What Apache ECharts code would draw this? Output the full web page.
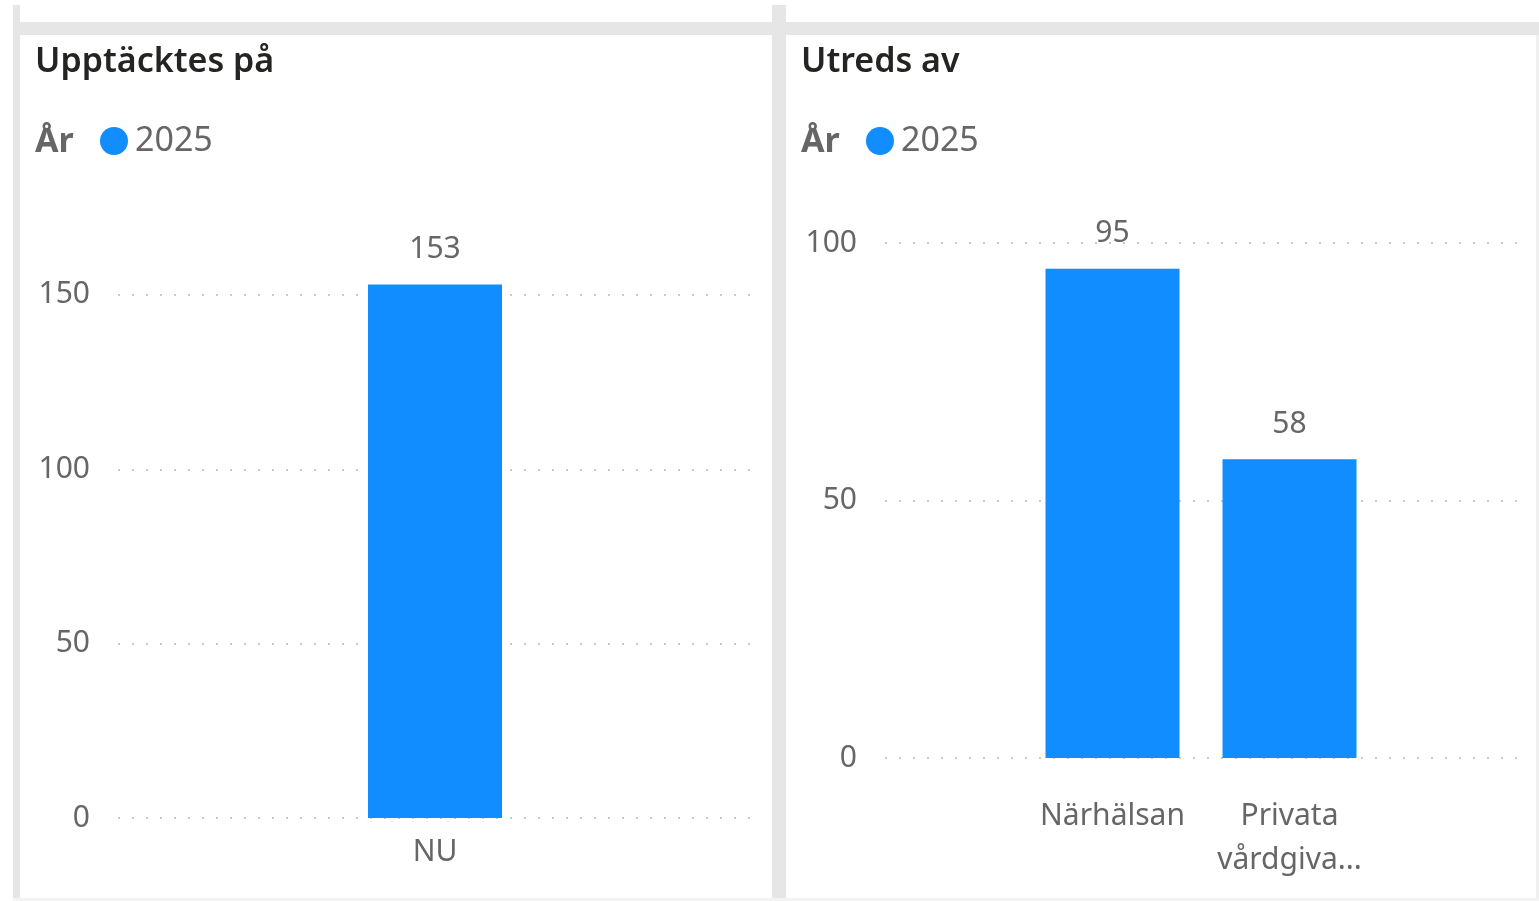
<!DOCTYPE html>
<html>
<head>
<meta charset="utf-8">
<script src="https://cdn.jsdelivr.net/npm/echarts@6/dist/echarts.min.js"></script>
<style>
  html, body { margin: 0; padding: 0; background: #fff; }
  #main { width: 1539px; height: 901px; }
</style>
</head>
<body>
<div id="main"></div>
<script>
// data
var seriesName = '2025';
var leftCategories = ['NU'];
var leftValues = [153];
var rightCategories = ['Närhälsan', 'Privata vårdgiva...'];
var rightValues = [95, 58];
var leftTicks = [0, 50, 100, 150];
var rightTicks = [0, 50, 100];

var blue = '#118DFF';
var grey = '#666666';
var font = '"Segoe UI", "Noto Sans", "Open Sans", sans-serif';

var chart = echarts.init(document.getElementById('main'));

var dotted = { color: '#c8c8c8', width: 2, type: [2, 12] };

function valueAxis(gridIndex, max, show) {
  return {
    type: 'value',
    gridIndex: gridIndex,
    min: 0,
    max: max,
    interval: 50,
    show: show,
    axisLine: { show: false },
    axisTick: { show: false },
    axisLabel: {
      show: show,
      margin: 28,
      color: grey,
      fontSize: 30,
      fontFamily: font,
      showMaxLabel: max === 100,
      formatter: function (v) {
        var ticks = gridIndex === 0 ? leftTicks : rightTicks;
        return ticks.indexOf(v) >= 0 ? v : '';
      }
    },
    splitLine: { show: show, showMaxLine: max === 100, lineStyle: dotted }
  };
}

var barLabel = {
  show: true,
  position: 'top',
  distance: 20,
  color: grey,
  fontSize: 30,
  fontFamily: font
};

var titleStyle = { fontSize: 34, fontWeight: 600, color: '#252423', fontFamily: font };
var serieStyle = { fontSize: 34, fontWeight: 'bold', color: grey, fontFamily: font };
var legendText = { fontSize: 34, color: grey, fontFamily: font, padding: [0, 0, 0, 2] };

var option = {
  animation: false,
  backgroundColor: '#fff',
  graphic: [
    { type: 'rect', shape: { x: 13, y: 5, width: 7, height: 896 }, style: { fill: '#e6e6e6' } },
    { type: 'rect', shape: { x: 13, y: 22, width: 1526, height: 13 }, style: { fill: '#e6e6e6' } },
    { type: 'rect', shape: { x: 772, y: 5, width: 14, height: 896 }, style: { fill: '#e6e6e6' } },
    { type: 'rect', shape: { x: 1536, y: 35, width: 3, height: 866 }, style: { fill: '#f0f0f0' } },
    { type: 'rect', shape: { x: 13, y: 898, width: 1526, height: 3 }, style: { fill: '#f3f3f3' } }
  ],
  title: [
    { text: 'Upptäcktes på', left: 30, top: 40, textStyle: titleStyle },
    { text: 'Utreds av', left: 796, top: 40, textStyle: titleStyle },
    { text: 'År', left: 30, top: 120, textStyle: serieStyle },
    { text: 'År', left: 796, top: 120, textStyle: serieStyle }
  ],
  legend: [
    { data: [seriesName], left: 95, top: 119, icon: 'circle', itemWidth: 28, itemHeight: 28, textStyle: legendText },
    { data: [seriesName], left: 861, top: 119, icon: 'circle', itemWidth: 28, itemHeight: 28, textStyle: legendText }
  ],
  grid: [
    { left: 118, right: 787, top: 260, bottom: 83 },
    { left: 885, right: 18, top: 243, bottom: 143 },
    { left: 1024, right: 161, top: 243, bottom: 143 }
  ],
  xAxis: [
    {
      type: 'category', gridIndex: 0, data: leftCategories,
      axisLine: { show: false }, axisTick: { show: false },
      axisLabel: { margin: 19, color: grey, fontSize: 30, fontFamily: font }
    },
    { type: 'category', gridIndex: 1, data: [], show: false },
    {
      type: 'category', gridIndex: 2, data: rightCategories,
      axisLine: { show: false }, axisTick: { show: false },
      axisLabel: {
        margin: 36, color: grey, fontSize: 30, fontFamily: font, lineHeight: 44, interval: 0,
        formatter: function (v) { return v.replace(' ', '\n'); }
      }
    }
  ],
  yAxis: [
    valueAxis(0, 160, true),
    valueAxis(1, 100, true),
    valueAxis(2, 100, false)
  ],
  series: [
    {
      name: seriesName, type: 'bar', xAxisIndex: 0, yAxisIndex: 0,
      data: leftValues, barWidth: 134, itemStyle: { color: blue }, label: barLabel
    },
    {
      name: seriesName, type: 'bar', xAxisIndex: 2, yAxisIndex: 2,
      data: rightValues, barWidth: 134, itemStyle: { color: blue }, label: barLabel
    }
  ]
};

chart.setOption(option);
</script>
</body>
</html>
